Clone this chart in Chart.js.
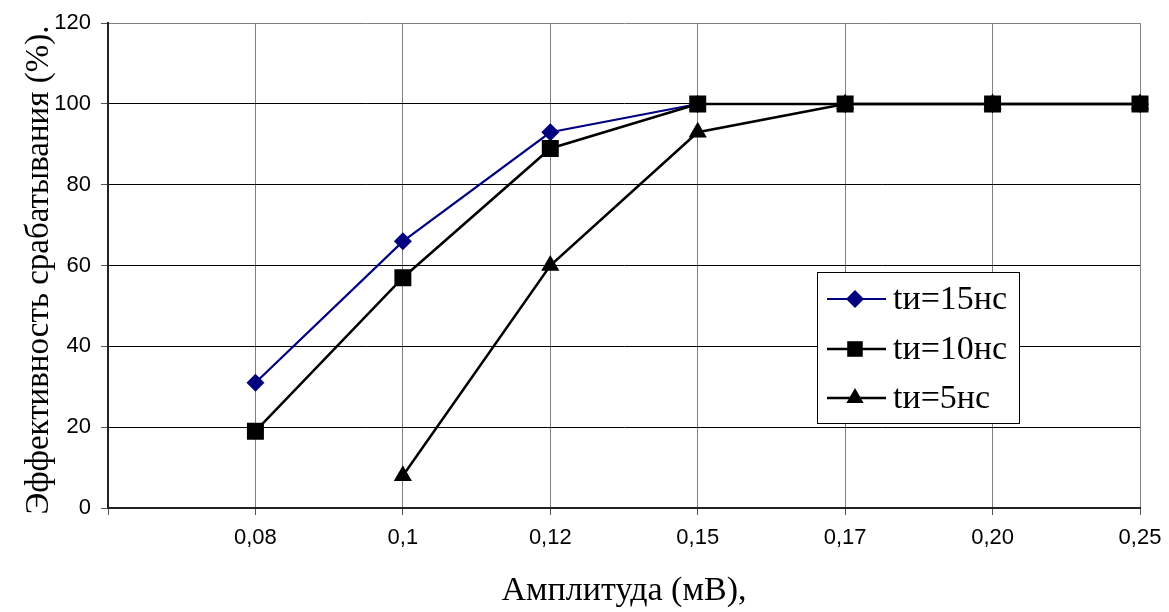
<!DOCTYPE html>
<html>
<head>
<meta charset="utf-8">
<script src="https://cdn.jsdelivr.net/npm/chart.js@4"></script>
<style>
    html, body { margin: 0; padding: 0; background: #fff; }
    #wrap { width: 1169px; height: 612px; }
</style>
</head>
<body>
<div id="wrap"><canvas id="chart" width="1169" height="612"></canvas></div>
<script>
// first category is an empty slot, as in the original plot
const amplitudes = ['', '0,08', '0,1', '0,12', '0,15', '0,17', '0,20', '0,25'];
const eff15 = [null, 31, 66, 93, 100, 100, 100, 100];
const eff10 = [null, 19, 57, 89, 100, 100, 100, 100];
const eff5 = [null, null, 8, 60, 93, 100, 100, 100];
const seriesNames = ['tи=15нс', 'tи=10нс', 'tи=5нс'];

const yTitle = 'Эффективность срабатывания (%).';
const xTitle = 'Амплитуда (мВ),';

const serif = '"Liberation Serif", "Times New Roman", serif';
const sans = '"Liberation Sans", Arial, sans-serif';

// draws the axis titles and the boxed legend inside the plot
const decorPlugin = {
    id: 'decor',
    afterDraw(chart) {
        const ctx = chart.ctx;
        ctx.save();
        ctx.fillStyle = '#000';
        ctx.font = '34px ' + serif;
        ctx.textAlign = 'center';
        ctx.textBaseline = 'middle';
        ctx.fillText(xTitle, 624, 591);

        ctx.save();
        ctx.font = '33px ' + serif;
        ctx.translate(39, 270);
        ctx.rotate(-Math.PI / 2);
        ctx.fillText(yTitle, 0, 0);
        ctx.restore();

        // legend box
        ctx.fillStyle = '#fff';
        ctx.fillRect(817, 272, 202, 151);
        ctx.strokeStyle = '#000';
        ctx.lineWidth = 1;
        ctx.strokeRect(817.5, 272.5, 202, 151);

        const rows = [299, 349, 398];
        const legendOrder = [2, 0, 1]; // dataset index per legend row
        legendOrder.forEach((dsIdx, i) => {
            const ds = chart.data.datasets[dsIdx];
            const y = rows[i];
            ctx.strokeStyle = ds.borderColor;
            ctx.lineWidth = ds.borderWidth;
            ctx.beginPath();
            ctx.moveTo(827, y);
            ctx.lineTo(886, y);
            ctx.stroke();
            ctx.fillStyle = ds.pointBackgroundColor;
            Chart.helpers.drawPoint(ctx, {
                pointStyle: ds.pointStyle,
                radius: ds.legendRadius,
                rotation: 0,
                borderWidth: 0
            }, 855, y);
            ctx.fillStyle = '#000';
            ctx.font = '34px ' + serif;
            ctx.textAlign = 'left';
            ctx.fillText(ds.label, 893, y + 1);
        });
        ctx.restore();
    }
};

new Chart(document.getElementById('chart'), {
    type: 'line',
    data: {
        labels: amplitudes,
        datasets: [
            {
                label: seriesNames[1],
                data: eff10,
                borderColor: '#000',
                borderWidth: 2.5,
                pointStyle: 'rect',
                pointRadius: 12,
                legendRadius: 11,
                pointBackgroundColor: '#000',
                pointBorderWidth: 0,
                order: 0
            },
            {
                label: seriesNames[2],
                data: eff5,
                borderColor: '#000',
                borderWidth: 2.5,
                pointStyle: 'triangle',
                pointRadius: 10.5,
                legendRadius: 10,
                pointBackgroundColor: '#000',
                pointBorderWidth: 0,
                order: 1
            },
            {
                label: seriesNames[0],
                data: eff15,
                borderColor: '#000080',
                borderWidth: 2.2,
                pointStyle: 'rectRot',
                pointRadius: 9,
                legendRadius: 9,
                pointBackgroundColor: '#000080',
                pointBorderWidth: 0,
                order: 2
            }
        ]
    },
    options: {
        responsive: false,
        animation: false,
        layout: {
            padding: {top: 20, right: 29, left: 0, bottom: 0}
        },
        plugins: {
            legend: {display: false},
            tooltip: {enabled: false}
        },
        elements: {
            line: {tension: 0}
        },
        scales: {
            x: {
                type: 'category',
                offset: false,
                grid: {
                    color: '#808080',
                    lineWidth: 1,
                    tickLength: 7,
                    tickColor: '#555'
                },
                border: {color: '#222', width: 2},
                ticks: {
                    color: '#000',
                    font: {family: sans, size: 22},
                    padding: 10,
                    maxRotation: 0,
                    autoSkip: false
                },
                afterFit: (scale) => {
                    scale.height = 104;
                    scale.paddingLeft = 0;
                    scale.paddingRight = 0;
                }
            },
            y: {
                min: 0,
                max: 120,
                grid: {
                    color: (c) => c.tick && c.tick.value === 120 ? '#808080' : '#000',
                    lineWidth: 1,
                    tickLength: 7,
                    tickColor: '#555'
                },
                border: {color: '#222', width: 2},
                ticks: {
                    stepSize: 20,
                    color: '#000',
                    font: {family: sans, size: 22},
                    padding: 10
                },
                afterFit: (scale) => { scale.width = 108; }
            }
        }
    },
    plugins: [decorPlugin]
});
</script>
</body>
</html>
